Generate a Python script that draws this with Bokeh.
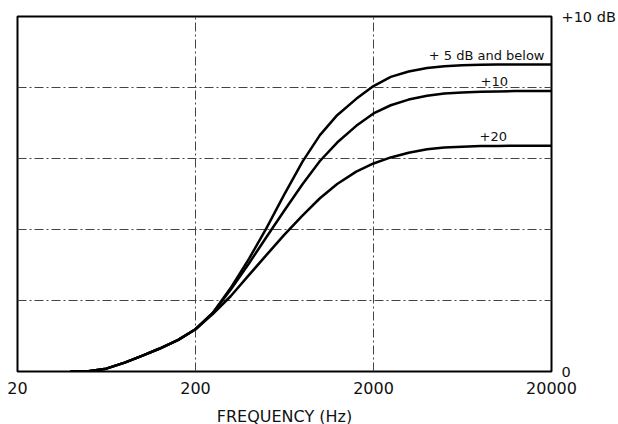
from bokeh.plotting import figure
from bokeh.models import FixedTicker, ColumnDataSource
from bokeh.core.properties import value
from bokeh.embed import file_html
from bokeh.resources import INLINE

# ---- data (1/3-octave frequencies, dB) ----
freq = [40, 50, 63, 80, 100, 125, 160, 200, 250, 315, 400, 500, 630, 800, 1000,
        1250, 1600, 2000, 2500, 3150, 4000, 5000, 6300, 8000, 10000, 12500, 16000, 20000]

db_5 = [0.0, 0.01, 0.08, 0.25, 0.44, 0.64, 0.89, 1.19, 1.65, 2.35, 3.18, 4.03, 4.98, 5.92, 6.66,
        7.22, 7.68, 8.04, 8.3, 8.45, 8.55, 8.6, 8.63, 8.64, 8.65, 8.65, 8.65, 8.65]

db_10 = [0.0, 0.01, 0.08, 0.25, 0.44, 0.64, 0.89, 1.19, 1.65, 2.30, 3.05, 3.78, 4.53, 5.28, 5.93,
         6.45, 6.92, 7.27, 7.5, 7.66, 7.77, 7.83, 7.86, 7.88, 7.89, 7.9, 7.9, 7.9]

db_20 = [0.0, 0.01, 0.08, 0.25, 0.44, 0.64, 0.89, 1.19, 1.62, 2.12, 2.72, 3.28, 3.85, 4.40, 4.88,
         5.28, 5.63, 5.86, 6.03, 6.16, 6.26, 6.31, 6.33, 6.35, 6.35, 6.36, 6.36, 6.36]

series_labels = ["+ 5 dB and below", "+10", "+20"]

x_ticks = [20, 200, 2000, 20000]
x_tick_labels = ["20", "200", "2000", "20000"]
x_grid = [200, 2000]
y_grid = [2, 4, 6, 8]
y_ticks = [0, 10]
y_tick_labels = ["0", "+10 dB"]
x_title = "FREQUENCY (Hz)"

FONT = "DejaVu Sans"

p = figure(frame_width=534, frame_height=355, x_axis_type="log",
           x_range=(20, 20000), y_range=(0, 10),
           y_axis_location="right", output_backend="svg", toolbar_location=None,
           min_border_left=17, min_border_top=16, min_border_right=63, min_border_bottom=45)

p.background_fill_color = "white"
p.outline_line_color = "black"
p.outline_line_width = 2

# grid
p.xgrid.ticker = FixedTicker(ticks=x_grid)
p.ygrid.ticker = FixedTicker(ticks=y_grid)
for g in (p.xgrid, p.ygrid):
    g.grid_line_color = "#444444"
    g.grid_line_width = 1
    g.grid_line_dash = "9 3 2 3"

# x axis
xa = p.xaxis[0]
xa.ticker = FixedTicker(ticks=x_ticks)
xa.major_label_overrides = {t: l for t, l in zip(x_ticks, x_tick_labels)}
xa.axis_line_color = None
xa.major_tick_line_color = None
xa.minor_tick_line_color = None
xa.major_label_standoff = 4
xa.major_label_text_font = FONT
xa.major_label_text_font_size = "16px"
xa.major_label_text_color = "#111111"
xa.axis_label = x_title
xa.axis_label_text_font = FONT
xa.axis_label_text_font_size = "16px"
xa.axis_label_text_font_style = "normal"
xa.axis_label_text_color = "#111111"
xa.axis_label_standoff = 10

# right axis
ya = p.yaxis[0]
ya.ticker = FixedTicker(ticks=y_ticks)
ya.major_label_overrides = {t: l for t, l in zip(y_ticks, y_tick_labels)}
ya.axis_line_color = None
ya.major_tick_line_color = None
ya.minor_tick_line_color = None
ya.major_label_standoff = 4
ya.major_label_text_font = FONT
ya.major_label_text_font_size = "14.5px"
ya.major_label_text_color = "#111111"

# curves
for d in (db_5, db_10, db_20):
    p.line(freq, d, line_color="black", line_width=2.5, line_join="round", line_cap="round")

# curve labels
lab_src = ColumnDataSource(dict(
    x=[freq[-1]] * 3,
    y=[db_5[-1], db_10[-1], db_20[-1]],
    text=series_labels,
    xo=[-7, -71, -72],
    yo=[-9, -10, -9],
    align=["right", "left", "left"],
))
p.text(x="x", y="y", text="text", source=lab_src, x_offset="xo", y_offset="yo",
       text_align="align", text_baseline="alphabetic",
       text_font=value(FONT), text_font_size="13px", text_color="#111111")

open("out.html", "w").write(file_html(p, INLINE))
